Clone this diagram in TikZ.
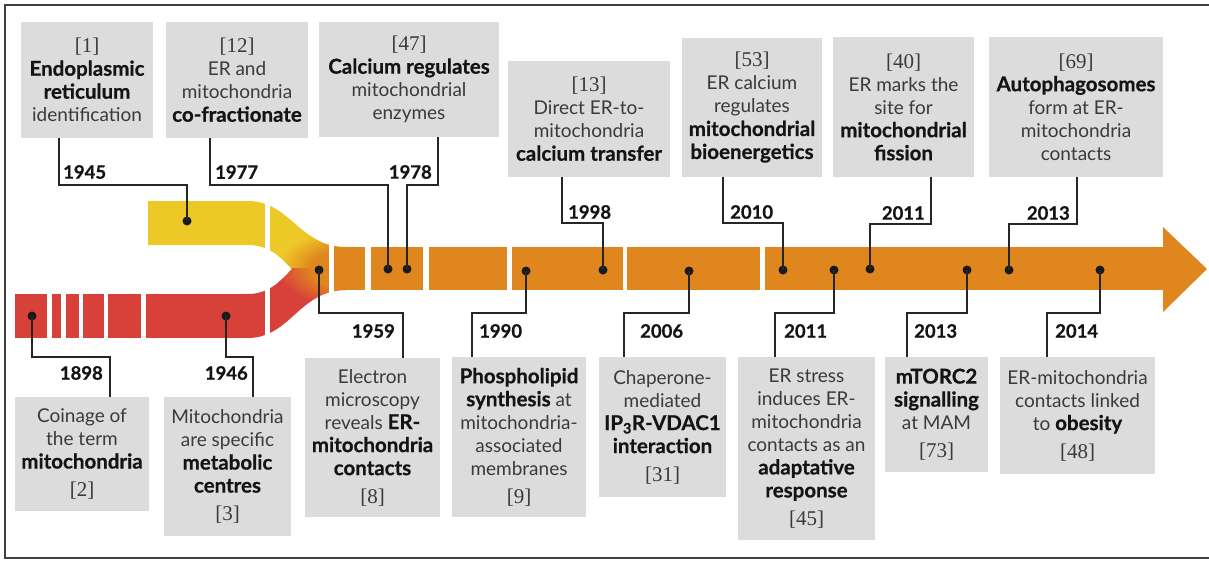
\documentclass[tikz,border=0pt]{standalone}
\usepackage{fontspec}
\setmainfont{Lato}[BoldFeatures={FakeBold=0.6}]
\newfontfamily\serifr{Liberation Serif}
\definecolor{yel}{HTML}{EDC928}
\definecolor{redc}{HTML}{D8413A}
\definecolor{orng}{HTML}{E0861E}
\definecolor{boxg}{HTML}{DCDCDC}
\definecolor{txt}{HTML}{3A3A3A}
\pgfdeclareradialshading{oyshade}{\pgfpoint{0bp}{0bp}}{color(0bp)=(orng); color(12bp)=(orng); color(24bp)=(yel); color(50bp)=(yel)}
\pgfdeclareradialshading{orshade}{\pgfpoint{0bp}{0bp}}{color(0bp)=(orng); color(12bp)=(orng); color(24bp)=(redc); color(50bp)=(redc)}
\newcommand\bt[1]{{\fontsize{20.5}{23}\selectfont\bfseries\color{black!92}#1}}
\newcommand\refn[1]{{\fontsize{21}{23}\selectfont\serifr\color{txt}[#1]}}
\tikzset{
  box/.style={fill=boxg, inner sep=2pt, align=center, text=txt, font=\fontsize{19}{23}\selectfont},
  yr/.style={inner sep=0pt, font=\bfseries\fontsize{18.5}{23}\selectfont, text=black!92},
  conn/.style={draw=black!85, line width=1.5pt},
  dot/.style={circle, fill=black!90, inner sep=0pt, minimum size=9pt},
  gapbox/.style={fill=white}
}
\begin{document}
\begin{tikzpicture}[x=1pt,y=-1pt]
\useasboundingbox (0,0) rectangle (1209,560);
\fill[white] (0,0) rectangle (1209,560);
% frame
\draw[black!75, line width=1.5pt] (1209,5) -- (5,5) -- (5,558) -- (1209,558);

% ---- ribbons ----
\fill[yel] (148,201) rectangle (250,245);
\fill[redc] (15,294) rectangle (250,338);
\def\mergepath{(248,201) .. controls (290,201) and (300,247) .. (345,247) -- (345,290) .. controls (300,290) and (290,338) .. (248,338) -- (248,294) .. controls (268,294) and (280,282) .. (292,269) .. controls (280,256) and (268,245) .. (248,245) -- cycle}
\begin{scope}
  \clip \mergepath;
  \begin{scope}
    \clip (240,190) rectangle (350,268.5);
    \fill[yel] (240,190) rectangle (350,268.5);
    \shade[shading=oyshade] (345,268.5) ellipse [x radius=70pt, y radius=40pt];
  \end{scope}
  \begin{scope}
    \clip (240,268.5) rectangle (350,350);
    \fill[redc] (240,268.5) rectangle (350,350);
    \shade[shading=orshade] (345,268.5) ellipse [x radius=70pt, y radius=40pt];
  \end{scope}
\end{scope}
\fill[orng] (330,247) rectangle (1164,290);
\fill[orng] (1163,227) -- (1207,269) -- (1163,312) -- cycle;
% gaps
\foreach \a/\b in {47/52, 61/66, 79/83, 104/108, 141/146, 265/270, 329/334, 365/371, 423/429, 507/512, 623/627, 760/765}
  \fill[gapbox] (\a,195) rectangle (\b,345);

% ---- top boxes ----
\node[box, minimum width=132pt, minimum height=116pt] (b1) at (87,80)
  {\refn{1}\\ \bt{Endoplasmic}\\ \bt{reticulum}\\ identification};
\node[box, minimum width=142pt, minimum height=116pt] (b12) at (237,80)
  {\refn{12}\\ ER and\\ mitochondria\\ \bt{co-fractionate}};
\node[box, minimum width=180pt, minimum height=115pt] (b47) at (409,79.5)
  {\refn{47}\\ \bt{Calcium regulates}\\ mitochondrial\\ enzymes};
\node[box, minimum width=162pt, minimum height=116pt] (b13) at (589,119)
  {\refn{13}\\ Direct ER-to-\\ mitochondria\\ \bt{calcium transfer}};
\node[box, minimum width=140pt, minimum height=139pt] (b53) at (752,107.5)
  {\refn{53}\\ ER calcium\\ regulates\\ \bt{mitochondrial}\\ \bt{bioenergetics}};
\node[box, minimum width=141pt, minimum height=140pt] (b40) at (903.5,107)
  {\refn{40}\\ ER marks the\\ site for\\ \bt{mitochondrial}\\ \bt{fission}};
\node[box, minimum width=174pt, minimum height=140pt] (b69) at (1076,107)
  {\refn{69}\\ \bt{Autophagosomes}\\ form at ER-\\ mitochondria\\ contacts};

% ---- bottom boxes ----
\node[box, minimum width=134pt, minimum height=114pt] (b2) at (82,454)
  {Coinage of\\ the term\\ \bt{mitochondria}\\[5pt] \refn{2}};
\node[box, minimum width=127pt, minimum height=139pt] (b3) at (227.5,466.5)
  {Mitochondria\\ are specific\\ \bt{metabolic}\\ \bt{centres}\\[5pt] \refn{3}};
\node[box, minimum width=135pt, minimum height=159pt] (b8) at (372.5,437.5)
  {Electron\\ microscopy\\ reveals \bt{ER-}\\ \bt{mitochondria}\\ \bt{contacts}\\[5pt] \refn{8}};
\node[box, minimum width=134pt, minimum height=160pt] (b9) at (519,437)
  {\bt{Phospholipid}\\ \bt{synthesis} at\\ mitochondria-\\ associated\\ membranes\\[5pt] \refn{9}};
\node[box, minimum width=127pt, minimum height=140pt] (b31) at (662.5,427)
  {Chaperone-\\ mediated\\ \bt{IP\textsubscript{3}R-VDAC1}\\ \bt{interaction}\\[5pt] \refn{31}};
\node[box, minimum width=137pt, minimum height=183pt] (b45) at (806.5,448.5)
  {ER stress\\ induces ER-\\ mitochondria\\ contacts as an\\ \bt{adaptative}\\ \bt{response}\\[5pt] \refn{45}};
\node[box, minimum width=103pt, minimum height=115pt] (b73) at (936.5,414.5)
  {\bt{mTORC2}\\ \bt{signalling}\\ at MAM\\[5pt] \refn{73}};
\node[box, minimum width=155pt, minimum height=117pt] (b48) at (1077.5,415.5)
  {ER-mitochondria\\ contacts linked\\ to \bt{obesity}\\[5pt] \refn{48}};

% ---- dots ----
\node[dot] (d1945) at (187,221) {};
\node[dot] (d1977) at (388,269) {};
\node[dot] (d1978) at (407,269) {};
\node[dot] (d1959) at (319,270) {};
\node[dot] (d1898) at (32,316) {};
\node[dot] (d1946) at (226,316) {};
\node[dot] (d1990) at (526,271) {};
\node[dot] (d1998) at (603,270) {};
\node[dot] (d2006) at (689,271) {};
\node[dot] (d2010) at (783,270) {};
\node[dot] (d2011b) at (834,270) {};
\node[dot] (d2011t) at (870,269) {};
\node[dot] (d2013b) at (967,270) {};
\node[dot] (d2013t) at (1009,270) {};
\node[dot] (d2014) at (1100,270) {};

% ---- elbows ----
\coordinate (e1945) at (59,185);
\coordinate (e1977) at (210,185);
\coordinate (e1978) at (438,185);
\coordinate (e1959) at (403,313);
\coordinate (e1898) at (110,357);
\coordinate (e1946) at (253,357);
\coordinate (e1990) at (472,313);
\coordinate (e1998) at (562,223);
\coordinate (e2006) at (624,313);
\coordinate (e2010) at (723,223);
\coordinate (e2011b) at (775,313);
\coordinate (e2011t) at (931,224);
\coordinate (e2013b) at (907,313);
\coordinate (e2013t) at (1077,224);
\coordinate (e2014) at (1047,313);

% ---- connectors ----
\foreach \d/\b in {1945/b1, 1977/b12, 1978/b47, 1998/b13, 2010/b53, 2011t/b40, 2013t/b69}
  \draw[conn] (d\d.center) |- (e\d) -- (e\d |- \b.south);
\foreach \d/\b in {1959/b8, 1898/b2, 1946/b3, 1990/b9, 2006/b31, 2011b/b45, 2013b/b73, 2014/b48}
  \draw[conn] (d\d.center) |- (e\d) -- (e\d |- \b.north);

% ---- year labels ----
\node[yr, anchor=west] (y1945) at (63,172) {1945};
\node[yr, anchor=west] (y1977) at (215,172) {1977};
\node[yr, anchor=east] (y1978) at (432,172) {1978};
\node[yr, anchor=east] (y1959) at (395,331) {1959};
\node[yr, anchor=east] (y1898) at (103,373) {1898};
\node[yr, anchor=east] (y1946) at (248,373) {1946};
\node[yr, anchor=west] (y1990) at (479,331) {1990};
\node[yr, anchor=west] (y2006) at (640,331) {2006};
\node[yr, anchor=west] (y2011b) at (784,331) {2011};
\node[yr, anchor=west] (y1998) at (568,212) {1998};
\node[yr, anchor=west] (y2010) at (730,212) {2010};
\node[yr, anchor=east] (y2011t) at (925,213) {2011};
\node[yr, anchor=east] (y2013t) at (1070,213) {2013};
\node[yr, anchor=west] (y2013b) at (914,331) {2013};
\node[yr, anchor=west] (y2014) at (1055,331) {2014};
\end{tikzpicture}
\end{document}
